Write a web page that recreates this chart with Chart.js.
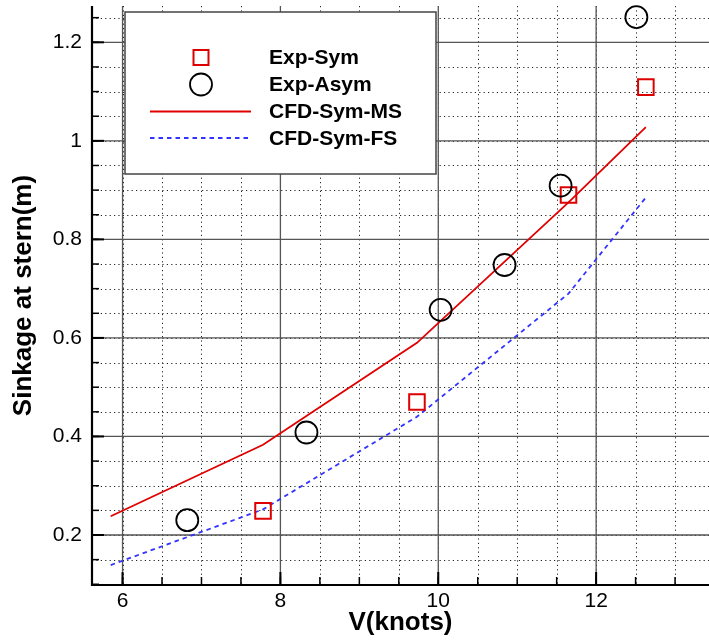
<!DOCTYPE html>
<html>
<head>
<meta charset="utf-8">
<script src="https://cdn.jsdelivr.net/npm/chart.js@4.4.1/dist/chart.umd.min.js"></script>
<style>
  html, body { margin: 0; padding: 0; background: #fff; }
  #wrap { width: 709px; height: 640px; }
</style>
</head>
<body>
<div id="wrap"><canvas id="sinkage" width="709" height="640"></canvas></div>
<script>
// Experiment: speed (knots) vs sinkage at stern (m)
const SYM_V = [7.78, 9.73, 11.65, 12.63]
const SYM_SINK = [0.249, 0.47, 0.89, 1.109]
const ASYM_V = [6.82, 8.33, 10.03, 10.84, 11.55, 12.51]
const ASYM_SINK = [0.23, 0.408, 0.657, 0.748, 0.909, 1.251]

// CFD results
const MS_V = [5.85, 7.78, 9.73, 11.65, 12.63]
const MS_SINK = [0.238, 0.383, 0.59, 0.875, 1.028]
const FS_V = [5.85, 7.78, 9.73, 11.65, 12.65]
const FS_SINK = [0.139, 0.252, 0.44, 0.69, 0.889]

const SERIES_NAMES = ["Exp-Sym", "Exp-Asym", "CFD-Sym-MS", "CFD-Sym-FS"]

// Axes
const X_TICKS = [6, 8, 10, 12]
const Y_TICKS = [0.2, 0.4, 0.6, 0.8, 1, 1.2]
const X_MINOR_STEP = 0.5
const Y_MINOR_STEP = 0.05

const FONT = "'Liberation Sans', Arial, Helvetica, sans-serif"

const toPoints = (xs, ys) => xs.map((x, i) => ({ x: x, y: ys[i] }))

/**
 * Tecplot-like frame: dotted minor grid, solid major grid, inward ticks
 */
const framePlugin = {
  id: "frame",
  beforeDatasetsDraw(chart) {
    const { ctx, chartArea: a, scales } = chart
    const xs = scales.x
    const ys = scales.y
    ctx.save()
    ctx.beginPath()
    ctx.rect(a.left, a.top, a.right - a.left, a.bottom - a.top)
    ctx.clip()

    // minor dotted grid
    ctx.strokeStyle = "#222"
    ctx.lineWidth = 1
    ctx.setLineDash([1.2, 3.2])
    for (let v = Math.ceil(xs.min / X_MINOR_STEP) * X_MINOR_STEP; v <= xs.max; v += X_MINOR_STEP) {
      const px = Math.round(xs.getPixelForValue(v)) + 0.5
      ctx.beginPath()
      ctx.moveTo(px, a.top)
      ctx.lineTo(px, a.bottom)
      ctx.stroke()
    }
    for (let v = Math.ceil(ys.min / Y_MINOR_STEP) * Y_MINOR_STEP; v <= ys.max; v += Y_MINOR_STEP) {
      const py = Math.round(ys.getPixelForValue(v)) + 0.5
      ctx.beginPath()
      ctx.moveTo(a.left, py)
      ctx.lineTo(a.right, py)
      ctx.stroke()
    }

    // major solid grid
    ctx.setLineDash([])
    ctx.strokeStyle = "#555"
    ctx.lineWidth = 1.3
    X_TICKS.forEach((v) => {
      const px = xs.getPixelForValue(v)
      ctx.beginPath()
      ctx.moveTo(px, a.top)
      ctx.lineTo(px, a.bottom)
      ctx.stroke()
    })
    Y_TICKS.forEach((v) => {
      const py = ys.getPixelForValue(v)
      ctx.beginPath()
      ctx.moveTo(a.left, py)
      ctx.lineTo(a.right, py)
      ctx.stroke()
    })
    ctx.restore()
  },
  afterDatasetsDraw(chart) {
    const { ctx, chartArea: a, scales } = chart
    const xs = scales.x
    const ys = scales.y
    ctx.save()
    ctx.strokeStyle = "#000"

    // minor ticks
    ctx.lineWidth = 1.5
    for (let v = Math.ceil(xs.min / X_MINOR_STEP) * X_MINOR_STEP; v <= xs.max; v += X_MINOR_STEP) {
      const px = xs.getPixelForValue(v)
      ctx.beginPath()
      ctx.moveTo(px, a.bottom)
      ctx.lineTo(px, a.bottom - 8)
      ctx.stroke()
    }
    for (let v = Math.ceil(ys.min / Y_MINOR_STEP) * Y_MINOR_STEP; v <= ys.max; v += Y_MINOR_STEP) {
      const py = ys.getPixelForValue(v)
      ctx.beginPath()
      ctx.moveTo(a.left, py)
      ctx.lineTo(a.left + 7, py)
      ctx.stroke()
    }

    // major ticks
    ctx.lineWidth = 2
    X_TICKS.forEach((v) => {
      const px = xs.getPixelForValue(v)
      ctx.beginPath()
      ctx.moveTo(px, a.bottom)
      ctx.lineTo(px, a.bottom - 13)
      ctx.stroke()
    })
    Y_TICKS.forEach((v) => {
      const py = ys.getPixelForValue(v)
      ctx.beginPath()
      ctx.moveTo(a.left, py)
      ctx.lineTo(a.left + 12, py)
      ctx.stroke()
    })

    // axis lines
    ctx.lineWidth = 2.2
    ctx.beginPath()
    ctx.moveTo(a.left, a.top)
    ctx.lineTo(a.left, a.bottom)
    ctx.lineTo(a.right, a.bottom)
    ctx.stroke()
    ctx.restore()
  },
}

/**
 * Boxed legend in the upper left of the plot
 */
const legendBoxPlugin = {
  id: "legendBox",
  afterDraw(chart) {
    const { ctx } = chart
    const sets = chart.data.datasets
    const box = { x: 125, y: 12, w: 311, h: 162 }
    const symX = 201
    const textX = 269
    const rows = [57.5, 84.5, 111.5, 138]

    ctx.save()
    ctx.fillStyle = "#fff"
    ctx.fillRect(box.x, box.y, box.w, box.h)
    ctx.strokeStyle = "#444"
    ctx.lineWidth = 1.5
    ctx.strokeRect(box.x, box.y, box.w, box.h)

    // square
    ctx.strokeStyle = sets[0].pointBorderColor
    ctx.lineWidth = sets[0].pointBorderWidth
    ctx.strokeRect(symX - 7.5, rows[0] - 7.5, 15, 15)

    // circle
    ctx.strokeStyle = sets[1].pointBorderColor
    ctx.lineWidth = sets[1].pointBorderWidth
    ctx.beginPath()
    ctx.arc(symX, rows[1], sets[1].pointRadius, 0, Math.PI * 2)
    ctx.stroke()

    // lines
    ctx.strokeStyle = sets[2].borderColor
    ctx.lineWidth = sets[2].borderWidth
    ctx.beginPath()
    ctx.moveTo(150, rows[2])
    ctx.lineTo(251, rows[2])
    ctx.stroke()

    ctx.strokeStyle = sets[3].borderColor
    ctx.lineWidth = sets[3].borderWidth
    ctx.setLineDash(sets[3].borderDash)
    ctx.beginPath()
    ctx.moveTo(150, rows[3])
    ctx.lineTo(248, rows[3])
    ctx.stroke()
    ctx.setLineDash([])

    ctx.fillStyle = "#000"
    ctx.font = "bold 21px " + FONT
    ctx.textBaseline = "middle"
    ctx.textAlign = "left"
    SERIES_NAMES.forEach((name, i) => ctx.fillText(name, textX, rows[i] + 1))
    ctx.restore()
  },
}

const config = {
  type: "scatter",
  data: {
    datasets: [
      {
        label: SERIES_NAMES[0],
        data: toPoints(SYM_V, SYM_SINK),
        pointStyle: "rect",
        pointRadius: 11,
        pointHoverRadius: 11,
        pointBackgroundColor: "rgba(0,0,0,0)",
        pointBorderColor: "#dd0000",
        pointBorderWidth: 2,
        showLine: false,
        clip: false,
        order: 1,
      },
      {
        label: SERIES_NAMES[1],
        data: toPoints(ASYM_V, ASYM_SINK),
        pointStyle: "circle",
        pointRadius: 11,
        pointHoverRadius: 11,
        pointBackgroundColor: "rgba(0,0,0,0)",
        pointBorderColor: "#000",
        pointBorderWidth: 1.8,
        showLine: false,
        clip: false,
        order: 0,
      },
      {
        label: SERIES_NAMES[2],
        data: toPoints(MS_V, MS_SINK),
        showLine: true,
        borderColor: "#e00000",
        borderWidth: 1.8,
        pointRadius: 0,
        tension: 0,
        order: 2,
      },
      {
        label: SERIES_NAMES[3],
        data: toPoints(FS_V, FS_SINK),
        showLine: true,
        borderColor: "#3333ff",
        borderWidth: 1.8,
        borderDash: [4.5, 4],
        pointRadius: 0,
        tension: 0,
        order: 3,
      },
    ],
  },
  options: {
    responsive: false,
    animation: false,
    devicePixelRatio: 1,
    layout: { autoPadding: false, padding: { top: 6, right: 0, left: 0, bottom: 0 } },
    plugins: {
      legend: { display: false },
      tooltip: { enabled: false },
    },
    scales: {
      x: {
        type: "linear",
        min: 5.613,
        max: 13.43,
        afterBuildTicks: (s) => { s.ticks = X_TICKS.map((v) => ({ value: v })) },
        afterFit: (s) => {
          s.height = 55
          s.paddingLeft = 0
          s.paddingRight = 0
        },
        grid: { display: false, drawTicks: false },
        border: { display: false },
        ticks: {
          color: "#000",
          padding: 4,
          maxRotation: 0,
          font: { family: FONT, size: 21 },
          callback: (v) => String(v),
        },
        title: {
          display: true,
          text: "V(knots)",
          color: "#000",
          font: { family: FONT, size: 26, weight: "bold" },
          padding: { top: 0, bottom: 2 },
        },
      },
      y: {
        type: "linear",
        min: 0.0985,
        max: 1.2737,
        afterBuildTicks: (s) => { s.ticks = Y_TICKS.map((v) => ({ value: v })) },
        afterFit: (s) => {
          s.width = 92
          s.paddingTop = 0
          s.paddingBottom = 0
        },
        grid: { display: false, drawTicks: false },
        border: { display: false },
        ticks: {
          color: "#000",
          padding: 10,
          font: { family: FONT, size: 21 },
          callback: (v) => String(v),
        },
        title: {
          display: true,
          text: "Sinkage at stern(m)",
          color: "#000",
          font: { family: FONT, size: 26, weight: "bold" },
          padding: { top: 8, bottom: 0 },
        },
      },
    },
  },
  plugins: [framePlugin, legendBoxPlugin],
}

new Chart(document.getElementById("sinkage"), config)
</script>
</body>
</html>
